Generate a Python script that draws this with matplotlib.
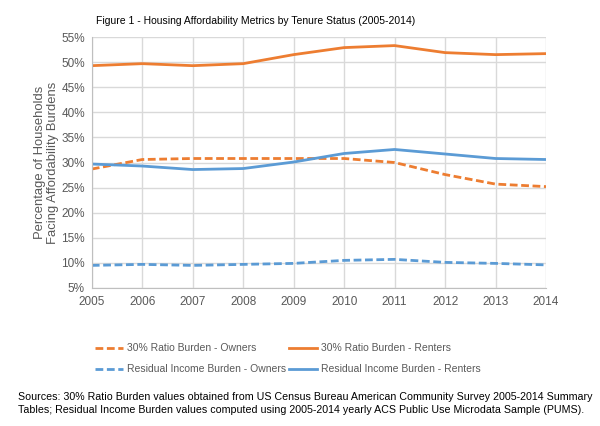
import numpy as np
import matplotlib.pyplot as plt
from matplotlib.ticker import FuncFormatter

plt.rcParams['font.family'] = ['Liberation Sans', 'DejaVu Sans']

# Datos (porcentaje de hogares)
years = [2005, 2006, 2007, 2008, 2009, 2010, 2011, 2012, 2013, 2014]
ratio_owners = [28.7, 30.6, 30.8, 30.8, 30.8, 30.8, 30.0, 27.6, 25.7, 25.2]
ratio_renters = [49.3, 49.7, 49.3, 49.7, 51.5, 52.9, 53.3, 51.9, 51.5, 51.7]
resid_owners = [9.5, 9.7, 9.5, 9.7, 9.9, 10.5, 10.7, 10.1, 9.9, 9.6]
resid_renters = [29.7, 29.3, 28.6, 28.8, 30.1, 31.8, 32.6, 31.7, 30.8, 30.6]

orange = '#ED7D31'
blue = '#5B9BD5'
gray_txt = '#595959'
dash = (0, (2.8, 1.3))

fig = plt.figure(figsize=(6, 4.26), dpi=100)
ax = fig.add_axes([0.153, 0.324, 0.757, 0.589])

l1, = ax.plot(years, ratio_owners, color=orange, lw=2, ls=dash, label='30% Ratio Burden - Owners')
l2, = ax.plot(years, ratio_renters, color=orange, lw=2, label='30% Ratio Burden - Renters')
l3, = ax.plot(years, resid_owners, color=blue, lw=2, ls=dash, label='Residual Income Burden - Owners')
l4, = ax.plot(years, resid_renters, color=blue, lw=2, label='Residual Income Burden - Renters')

ax.set_xlim(2005, 2014)
ax.set_ylim(5, 55)
ax.set_xticks(years)
ax.set_yticks(np.arange(5, 56, 5))
ax.yaxis.set_major_formatter(FuncFormatter(lambda v, p: f'{v:.0f}%'))
ax.grid(True, color='#D9D9D9', lw=1)
ax.set_axisbelow(True)
ax.tick_params(length=0, labelsize=8.5, colors=gray_txt, pad=5)
ax.tick_params(axis='x', pad=6)
for s in ['top', 'right']:
    ax.spines[s].set_visible(False)
for s in ['left', 'bottom']:
    ax.spines[s].set_color('#BFBFBF')

ax.set_ylabel('Percentage of Households\nFacing Affordability Burdens', fontsize=9.4,
              color=gray_txt, labelpad=1.5, linespacing=1.1)

fig.text(256 / 600, 0.951, 'Figure 1 - Housing Affordability Metrics by Tenure Status (2005-2014)',
         ha='center', va='center', fontsize=7.5)

fig.legend(handles=[l1, l3, l2, l4], ncol=2, loc='center left', bbox_to_anchor=(0.158, 0.158),
           frameon=False, fontsize=7.5, labelcolor=gray_txt, handlelength=2.7,
           handletextpad=0.35, columnspacing=0.3, labelspacing=1.05, borderpad=0, borderaxespad=0)

fig.text(0.03, 0.0525,
         'Sources: 30% Ratio Burden values obtained from US Census Bureau American Community Survey 2005-2014 Summary\n'
         'Tables; Residual Income Burden values computed using 2005-2014 yearly ACS Public Use Microdata Sample (PUMS).',
         ha='left', va='center', fontsize=7.7, linespacing=1.3)

fig.savefig('out.png', dpi=100)
